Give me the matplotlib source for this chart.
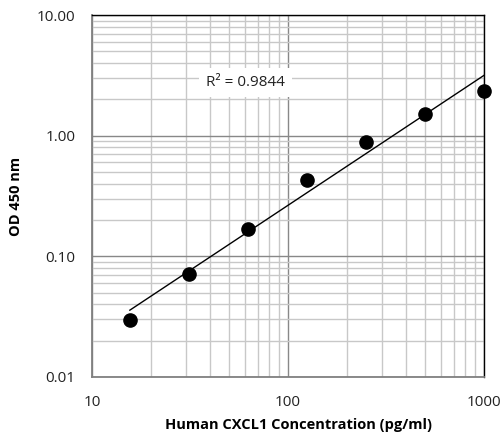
import numpy as np
import matplotlib
matplotlib.use("Agg")
import matplotlib.pyplot as plt
from matplotlib.ticker import LogLocator, FixedLocator, FixedFormatter, NullFormatter

conc = [15.6, 31.25, 62.5, 125, 250, 500, 1000]
od = [0.0297, 0.0715, 0.168, 0.43, 0.89, 1.52, 2.36]
r2_label = "R² = 0.9844"
x_ticks = [10, 100, 1000]
x_tick_labels = ["10", "100", "1000"]
y_ticks = [0.01, 0.1, 1, 10]
y_tick_labels = ["0.01", "0.10", "1.00", "10.00"]

plt.rcParams['font.family'] = ['Open Sans', 'DejaVu Sans']

fig = plt.figure(figsize=(5.02, 4.33), dpi=100)
ax = fig.add_axes([92/502, 1-377/433, (484-92)/502, (377-15)/433])
ax.set_xscale('log')
ax.set_yscale('log')
ax.set_xlim(10, 1000)
ax.set_ylim(0.01, 10)

ax.xaxis.set_major_locator(FixedLocator(x_ticks))
ax.xaxis.set_major_formatter(FixedFormatter(x_tick_labels))
ax.yaxis.set_major_locator(FixedLocator(y_ticks))
ax.yaxis.set_major_formatter(FixedFormatter(y_tick_labels))
ax.xaxis.set_minor_locator(LogLocator(base=10, subs=np.arange(2, 10)))
ax.yaxis.set_minor_locator(LogLocator(base=10, subs=np.arange(2, 10)))
ax.xaxis.set_minor_formatter(NullFormatter())
ax.yaxis.set_minor_formatter(NullFormatter())

ax.grid(True, which='minor', color='#c8c8c8', lw=1.0, zorder=0)
ax.grid(True, which='major', color='#888888', lw=1.0, zorder=0)
ax.set_axisbelow(True)
ax.tick_params(which='both', length=0, labelsize=11, colors='#222222')
ax.tick_params(axis='y', pad=12)
ax.tick_params(axis='x', pad=13)

for s in ['left', 'bottom']:
    ax.spines[s].set_color('#808080')
    ax.spines[s].set_linewidth(1.3)
for s in ['top', 'right']:
    ax.spines[s].set_color('black')
    ax.spines[s].set_linewidth(1.0)

# power trendline
lx = np.log10(conc)
ly = np.log10(od)
b, a = np.polyfit(lx, ly, 1)
xf = np.array([conc[0], conc[-1]])
yf = 10 ** (a + b * np.log10(xf))
ax.plot(xf, yf, color='black', lw=1.0, zorder=3)

ax.plot(conc, od, 'o', color='black', markersize=9.5, zorder=4, clip_on=False)

ax.text(0.392, 0.813, r2_label, transform=ax.transAxes, ha='center', va='center',
        fontsize=11, color='#222222', zorder=5,
        bbox=dict(boxstyle='square,pad=0.45', fc='white', ec='none'))

ax.set_xlabel("Human CXCL1 Concentration (pg/ml)", fontsize=10.5, fontweight='bold')
ax.xaxis.set_label_coords(0.528, -0.113, transform=ax.transAxes)
ax.xaxis.label.set_va('top')
ax.set_ylabel("OD 450 nm", fontsize=10.5, fontweight='bold', labelpad=10)

fig.savefig("out.png", dpi=100)
